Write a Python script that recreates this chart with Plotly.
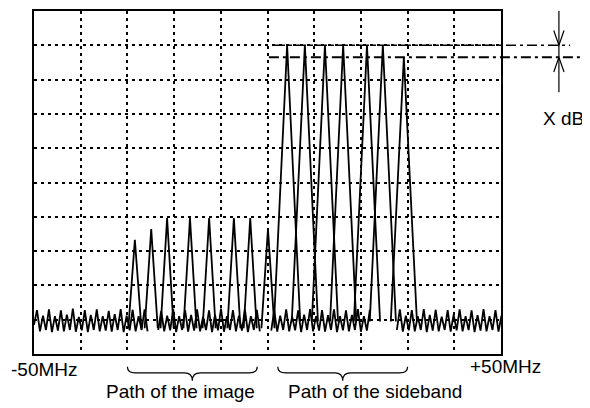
import numpy as np
import plotly.graph_objects as go

# screen is 10 x 10 divisions: x = -50MHz .. +50MHz, y = level in divisions
noise_step = 0.064

noise_a_start = 0.0
noise_a = [0.85, 1.28, 0.66, 1.12, 0.70, 1.30, 0.64, 1.10, 0.68, 1.27, 0.66, 1.15, 0.70,
           1.32, 0.65, 1.08, 0.69, 1.28, 0.64, 1.14, 0.70, 1.30, 0.66, 1.10, 0.68, 1.26,
           0.65, 1.16, 0.70, 1.31, 0.64, 1.12, 0.69, 1.29, 0.66, 1.10, 0.70, 1.30, 0.66]

noise_b_start = 2.66
noise_b = [0.70, 1.26, 0.66, 1.12, 0.69, 1.31, 0.64, 1.10, 0.70, 1.28, 0.65, 1.14, 0.68,
           1.30, 0.66, 1.08, 0.70, 1.27, 0.64, 1.15, 0.69, 1.32, 0.65, 1.10, 0.70, 1.28,
           0.66, 1.12, 0.68, 1.30, 0.64, 1.10, 0.70, 1.29, 0.66]

noise_c_start = 5.08
noise_c = [0.68, 1.28, 0.65, 1.12, 0.70, 1.30, 0.66, 1.09, 0.69, 1.27, 0.64, 1.15, 0.70,
           1.31, 0.66, 1.10, 0.68, 1.28, 0.65, 1.13, 0.70, 1.30, 0.64, 1.10, 0.69, 1.27,
           0.66, 1.14, 0.70, 1.31, 0.65, 1.10, 0.68, 1.29]

noise_d_start = 7.77
noise_d = [0.70, 1.30, 0.65, 1.12, 0.69, 1.28, 0.66, 1.10, 0.70, 1.31, 0.64, 1.14, 0.68,
           1.29, 0.66, 1.09, 0.70, 1.28, 0.65, 1.15, 0.69, 1.30, 0.66, 1.10, 0.70, 1.27,
           0.64, 1.13, 0.68, 1.31, 0.66, 1.10, 0.70, 1.28, 0.65, 1.12]

# image products (small) and sideband products (large)
image_pos = [2.16, 2.51, 2.85, 3.34, 3.75, 4.28, 4.63, 5.01]
image_lvl = [3.33, 3.64, 3.96, 3.96, 3.96, 3.96, 3.96, 3.64]
image_base = 0.75
image_half = 0.14

side_pos = [5.42, 5.80, 6.23, 6.62, 7.13, 7.47, 7.92]
side_lvl = [9.0, 9.0, 9.0, 9.0, 9.0, 9.0, 8.65]
side_base = 0.95
side_half = 0.28

# reference levels for the X dB marker
ref_top = 9.0
ref_low = 8.65

x_labels = ['-50MHz', '+50MHz']
brace_labels = ['Path of the image', 'Path of the sideband']
brace_spans = [(2.0, 4.78), (5.22, 8.0)]


def peaks(pos, lvl, base, half):
    xs, ys = [], []
    for p, l in zip(pos, lvl):
        xs += [p - half, p, p + half, None]
        ys += [base, l, base, None]
    return xs, ys


def noise(start, vals):
    return list(start + noise_step * np.arange(len(vals))), list(vals)


def dom(v):
    # divisions -> fraction of the screen
    return v / 10.0


nx, ny = [], []
for s, v in [(noise_a_start, noise_a), (noise_b_start, noise_b),
             (noise_c_start, noise_c), (noise_d_start, noise_d)]:
    a, b = noise(s, v)
    nx += a + [None]
    ny += b + [None]

ix, iy = peaks(image_pos, image_lvl, image_base, image_half)
sx, sy = peaks(side_pos, side_lvl, side_base, side_half)

fig = go.Figure()
line = dict(color='black', width=1.8)
fig.add_trace(go.Scatter(x=nx, y=ny, mode='lines', line=line, showlegend=False))
fig.add_trace(go.Scatter(x=ix, y=iy, mode='lines', line=line, showlegend=False))
fig.add_trace(go.Scatter(x=sx, y=sy, mode='lines', line=line, showlegend=False))

shapes = []
dashdot = '10px,4px,3px,4px'
# reference lines running out past the screen
shapes.append(dict(type='line', xref='x domain', yref='y domain',
                   x0=dom(5.16), x1=dom(11.48), y0=dom(ref_top), y1=dom(ref_top),
                   line=dict(color='black', width=1.5, dash=dashdot)))
shapes.append(dict(type='line', xref='x domain', yref='y domain',
                   x0=dom(5.03), x1=dom(11.9), y0=dom(ref_low), y1=dom(ref_low),
                   line=dict(color='black', width=2, dash=dashdot)))
# X dB arrows
ax = 11.24
shapes.append(dict(type='line', xref='x domain', yref='y domain',
                   x0=dom(ax), x1=dom(ax), y0=dom(10.0), y1=dom(7.63),
                   line=dict(color='black', width=1.2)))
for tip, wing in [(ref_top, ref_top + 0.43), (ref_low, ref_low - 0.43)]:
    shapes.append(dict(type='path', xref='x domain', yref='y domain',
                       path='M %f,%f L %f,%f L %f,%f' % (dom(ax - 0.11), dom(wing), dom(ax), dom(tip),
                                                         dom(ax + 0.11), dom(wing)),
                       line=dict(color='black', width=1.2)))

# braces under the axis
ye, ym, yt = -0.037, -0.055, -0.078
r = 0.017
for x0, x1 in brace_spans:
    a, b = dom(x0), dom(x1)
    m = (a + b) / 2
    p = ('M %f,%f Q %f,%f %f,%f L %f,%f Q %f,%f %f,%f Q %f,%f %f,%f L %f,%f Q %f,%f %f,%f'
         % (a, ye, a, ym, a + r, ym, m - r, ym, m, ym, m, yt, m, ym, m + r, ym,
            b - r, ym, b, ym, b, ye))
    shapes.append(dict(type='path', xref='x domain', yref='y domain', path=p,
                       line=dict(color='black', width=1.2)))

font = dict(family='Arial, Liberation Sans, sans-serif', size=19, color='black')
annotations = [
    dict(text=x_labels[0], x=0.0225, y=-0.046),
    dict(text=x_labels[1], x=1.0086, y=-0.037),
    dict(text=brace_labels[0], x=0.3137, y=-0.109),
    dict(text=brace_labels[1], x=0.730, y=-0.109),
    dict(text='X dB', x=1.133, y=0.687),
]
for a in annotations:
    a.update(xref='x domain', yref='y domain', showarrow=False, font=font,
             xanchor='center', yanchor='middle')

axis = dict(range=[0, 10], dtick=1, showticklabels=False, ticks='', zeroline=False,
            showline=True, mirror=True, linecolor='black', linewidth=1.8,
            showgrid=True, gridcolor='black', gridwidth=2, griddash='3px,4px')

# the page puts the figure 8px in from the top-left corner
fig.update_layout(width=582, height=400, margin=dict(l=26, r=89, t=1, b=54),
                  paper_bgcolor='white', plot_bgcolor='white',
                  xaxis=axis, yaxis=axis, shapes=shapes, annotations=annotations)

fig.write_html("out.html")
